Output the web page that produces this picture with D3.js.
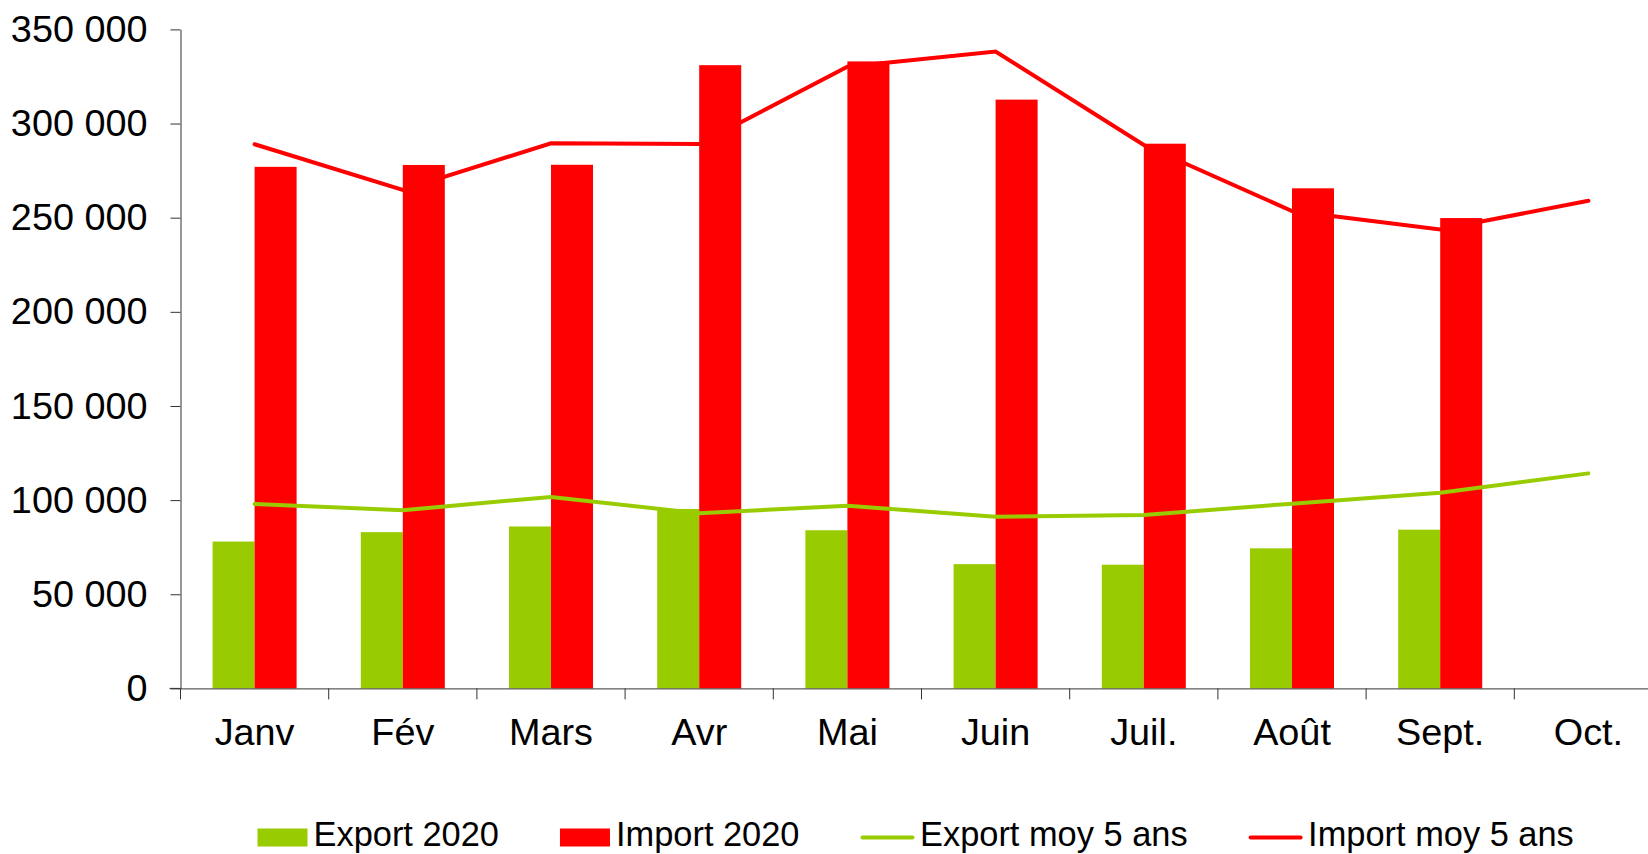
<!DOCTYPE html>
<html>
<head>
<meta charset="utf-8">
<script src="https://cdn.jsdelivr.net/npm/d3@7"></script>
<style>
  html, body { margin: 0; padding: 0; background: #fff; }
  svg { display: block; font-family: "Liberation Sans", Arial, sans-serif; }
</style>
</head>
<body>
<svg id="chart" width="1648" height="854"></svg>
<script>
// data
const months = ["Janv", "Fév", "Mars", "Avr", "Mai", "Juin", "Juil.", "Août", "Sept.", "Oct."];
const export2020 = [78000, 83000, 86000, 95300, 84000, 66000, 65700, 74400, 84300, null];
const import2020 = [277000, 278000, 278100, 331000, 333000, 312700, 289300, 265600, 249800, null];
const exportMoy = [98000, 94600, 101700, 93000, 97000, 91200, 92100, 98100, 103900, 114200];
const importMoy = [289000, 264800, 289500, 289100, 330200, 338200, 288600, 253500, 243700, 259000];
const yTicks = [0, 50000, 100000, 150000, 200000, 250000, 300000, 350000];

const GREEN = "#99cc00", RED = "#ff0000", AXIS = "#333";

const svg = d3.select("#chart");
const X0 = 180.5, BAND = 148.2;

const x = d3.scaleBand().domain(months).range([X0, X0 + BAND * months.length]);
const inner = d3.scaleBand().domain(["exp", "imp"]).range([0, BAND]).paddingOuter(0.764);
const y = d3.scaleLinear().domain([0, 350000]).range([688.4, 29.4]);

const fr = d3.formatLocale({ decimal: ",", thousands: " ", grouping: [3], currency: ["", " €"] });
const fmt = fr.format(",d");

// bars
const bars = svg.append("g");
[["exp", export2020, GREEN], ["imp", import2020, RED]].forEach(([key, vals, col]) => {
  bars.selectAll("rect." + key)
    .data(months.map((m, i) => ({ m, v: vals[i] })).filter(d => d.v != null))
    .enter().append("rect")
    .attr("class", key)
    .attr("x", d => x(d.m) + inner(key))
    .attr("width", inner.bandwidth())
    .attr("y", d => y(d.v))
    .attr("height", d => y(0) - y(d.v))
    .attr("fill", col);
});

// lines
const line = d3.line()
  .x((d, i) => x(months[i]) + x.bandwidth() / 2)
  .y(d => y(d));
[[exportMoy, GREEN], [importMoy, RED]].forEach(([vals, col]) => {
  svg.append("path")
    .attr("d", line(vals))
    .attr("fill", "none")
    .attr("stroke", col)
    .attr("stroke-width", 4)
    .attr("stroke-linecap", "round");
});

// y axis
const yAxis = svg.append("g")
  .attr("transform", `translate(${X0},0)`)
  .call(d3.axisLeft(y).tickValues(yTicks).tickFormat(fmt).tickSize(10).tickSizeOuter(0).tickPadding(23));
yAxis.select(".domain").attr("stroke", AXIS);
yAxis.selectAll(".tick line").attr("stroke", AXIS);
yAxis.selectAll("text").attr("font-size", 37.8).attr("fill", "#000")
  .attr("font-family", "Liberation Sans, Arial, sans-serif");

// x axis
const xAxis = svg.append("g")
  .attr("transform", `translate(0,${y(0)})`)
  .call(d3.axisBottom(x).tickSize(0).tickSizeOuter(0));
xAxis.select(".domain").attr("stroke", AXIS);
xAxis.selectAll("text").attr("font-size", 37.8).attr("fill", "#000")
  .attr("dy", null).attr("y", 745 - y(0))
  .attr("font-family", "Liberation Sans, Arial, sans-serif");
// category separators
xAxis.selectAll("line.sep")
  .data(months)
  .enter().append("line")
  .attr("class", "sep")
  .attr("x1", d => x(d)).attr("x2", d => x(d))
  .attr("y1", 0).attr("y2", 11)
  .attr("stroke", AXIS);
svg.append("line")
  .attr("x1", X0 - 11).attr("x2", X0)
  .attr("y1", y(0)).attr("y2", y(0))
  .attr("stroke", AXIS);

// legend
const legendItems = [
  { label: "Export 2020", color: GREEN, type: "box" },
  { label: "Import 2020", color: RED, type: "box" },
  { label: "Export moy 5 ans", color: GREEN, type: "line" },
  { label: "Import moy 5 ans", color: RED, type: "line" }
];
const legend = svg.append("g");
let lx = 257.5;
const ly = 837.5;
legendItems.forEach(it => {
  let kw;
  if (it.type === "box") {
    kw = 50;
    legend.append("rect").attr("x", lx).attr("y", ly - 9).attr("width", kw).attr("height", 18).attr("fill", it.color);
    lx += kw + 6;
  } else {
    kw = 54;
    legend.append("line").attr("x1", lx + 2).attr("x2", lx + kw - 2).attr("y1", ly).attr("y2", ly)
      .attr("stroke", it.color).attr("stroke-width", 4).attr("stroke-linecap", "round");
    lx += kw + 5.5;
  }
  const t = legend.append("text").attr("x", lx).attr("y", 846)
    .attr("font-size", 34.4).attr("fill", "#000").text(it.label);
  lx += t.node().getComputedTextLength() + 61;
});
</script>
</body>
</html>
